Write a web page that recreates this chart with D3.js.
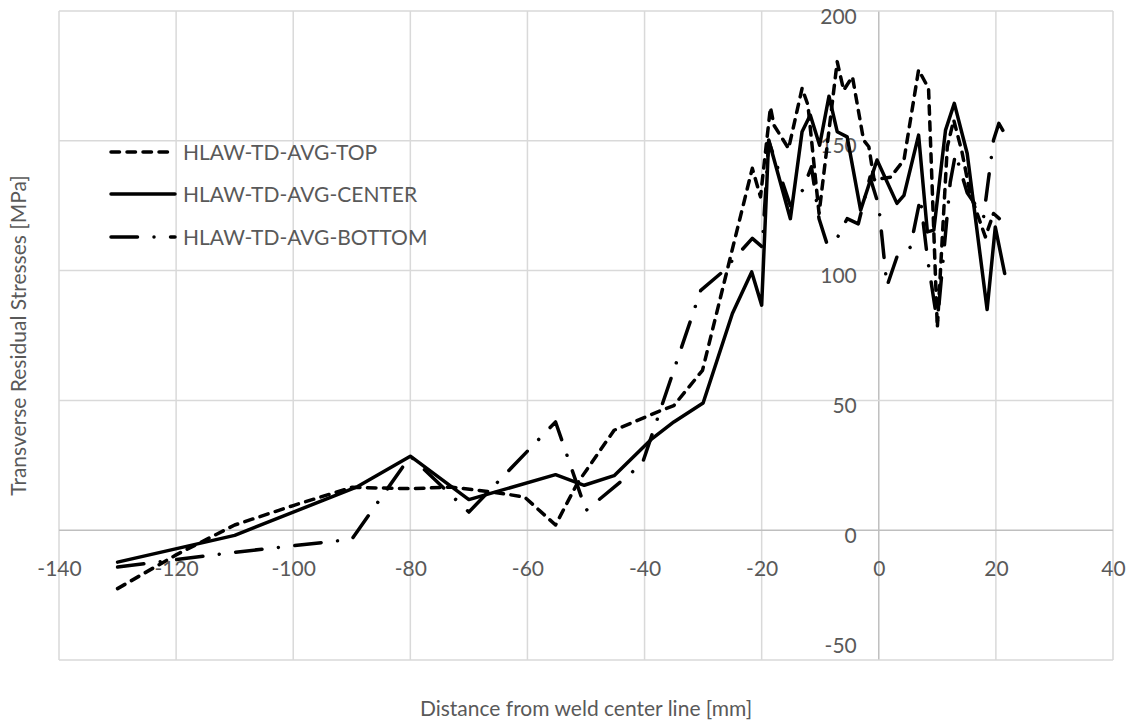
<!DOCTYPE html>
<html>
<head>
<meta charset="utf-8">
<script src="https://cdn.jsdelivr.net/npm/d3@7"></script>
<style>
  html, body { margin: 0; padding: 0; background: #ffffff; }
  svg { display: block; }
  text { font-family: Lato, "Open Sans", sans-serif; fill: #595959; }
</style>
</head>
<body>
<svg id="chart" width="1130" height="722"></svg>
<script>
// Tick values
const xTicks = [-140, -120, -100, -80, -60, -40, -20, 0, 20, 40];
const yTicks = [-50, 0, 50, 100, 150, 200];

// Series names
const seriesNames = ["HLAW-TD-AVG-TOP", "HLAW-TD-AVG-CENTER", "HLAW-TD-AVG-BOTTOM"];

// HLAW-TD-AVG-TOP
const topX = [-130, -120, -110, -100, -90, -80, -73, -66, -60.5, -55.2, -51.5, -45.2, -37.3, -35, -30.1, -21.6, -20.2, -18.5, -17.9, -15.4, -13.1, -12.1, -10.2, -7.1, -6, -4.5, -2.6, -1.7, -0.8, 2, 4.3, 6.8, 8.5, 10, 11.7, 12.8, 14.2, 15.6, 18.2, 19.6, 20.6];
const topY = [-22.5, -9.5, 2, 9.5, 16.5, 16, 16.6, 14.7, 12.8, 2, 18, 38.5, 46, 48, 61.6, 139.4, 128.4, 162.9, 156, 147, 170.2, 163.8, 122, 180.5, 169.5, 174.7, 150.3, 147.7, 135, 136, 142.6, 177.3, 170.2, 78, 147.7, 158, 145.8, 129.7, 113, 122, 120];

// HLAW-TD-AVG-CENTER
const centerX = [-130, -110, -89, -80, -70, -55.2, -50.3, -45.2, -38.7, -35, -30, -25, -21.7, -20, -18.8, -15.1, -13.1, -11.7, -10.1, -8.5, -7.1, -5.4, -3.1, -0.3, 3.1, 4.3, 6.8, 8.3, 9.4, 11.4, 12.9, 15.1, 18.5, 19.9, 21.5];
const centerY = [-12.3, -2, 16.8, 28.5, 11.8, 21.4, 17.3, 21, 35.3, 41.7, 49, 83.5, 99.5, 86.7, 150.3, 120, 153.5, 159.9, 148.3, 167.2, 153.5, 151.5, 123.3, 142.6, 125.9, 129, 152.2, 114.9, 115.6, 154.1, 164.4, 145.1, 85, 116.8, 98.9];

// HLAW-TD-AVG-BOTTOM
const bottomX = [-130, -110, -90, -80, -70, -55.2, -50, -40.4, -30.4, -27, -21.6, -19.9, -18.8, -15.1, -13, -11.5, -10.2, -8.8, -7, -5.4, -3.5, -1.5, 0, 1.4, 3.1, 5.4, 7.1, 8.3, 10, 12.2, 13.1, 15.1, 17.9, 19.6, 20.5, 21.5];
const bottomY = [-14.2, -8.5, -3.5, 28.5, 7, 41.7, 7.6, 25.6, 92.4, 98.9, 112.4, 109.1, 150, 125, 131, 140, 120, 110, 113, 120, 118, 136, 125, 94, 105.3, 109, 128, 105, 80, 134, 145, 130, 120.7, 150.3, 156.7, 152.8];

const svg = d3.select("#chart");
const plot = { left: 59, right: 1113, top: 11, bottom: 660 };

const x = d3.scaleLinear().domain([-140, 40]).range([plot.left, plot.right]);
const y = d3.scaleLinear().domain([-50, 200]).range([plot.bottom, plot.top]);

const gridColor = "#d9d9d9";
const axisColor = "#bfbfbf";
const fmt = d => String(d);

// Gridlines
const grid = svg.append("g");
grid.selectAll("line.gx").data(xTicks).join("line")
  .attr("x1", d => x(d)).attr("x2", d => x(d))
  .attr("y1", plot.top).attr("y2", plot.bottom)
  .attr("stroke", d => d === 0 ? axisColor : gridColor)
  .attr("stroke-width", 1.5);
grid.selectAll("line.gy").data(yTicks).join("line")
  .attr("x1", plot.left).attr("x2", plot.right)
  .attr("y1", d => y(d)).attr("y2", d => y(d))
  .attr("stroke", d => d === 0 ? axisColor : gridColor)
  .attr("stroke-width", 1.5);

// X axis labels, hung below the zero line
const xAxis = svg.append("g")
  .attr("transform", `translate(0,${y(0)})`)
  .call(d3.axisBottom(x).tickValues(xTicks).tickSize(0).tickFormat(fmt));
xAxis.select(".domain").remove();
xAxis.selectAll("text")
  .attr("y", 46).attr("dy", null)
  .style("font-size", "21px").style("fill", "#595959")
  .style("font-family", "Lato, sans-serif");

// Y axis labels, to the left of the zero line
const yAxis = svg.append("g")
  .attr("transform", `translate(${x(0)},0)`)
  .call(d3.axisLeft(y).tickValues(yTicks).tickSize(0).tickFormat(fmt));
yAxis.select(".domain").remove();
yAxis.selectAll("text")
  .attr("x", -22).attr("dy", null)
  .attr("y", d => d === -50 ? -8 : 12)
  .style("font-size", "21px").style("fill", "#595959")
  .style("font-family", "Lato, sans-serif");

// Axis titles
svg.append("text")
  .attr("x", (plot.left + plot.right) / 2).attr("y", 716)
  .attr("text-anchor", "middle").style("font-size", "21px")
  .text("Distance from weld center line [mm]");
svg.append("text")
  .attr("transform", `translate(26,${(plot.top + plot.bottom) / 2}) rotate(-90)`)
  .attr("text-anchor", "middle").style("font-size", "21px")
  .text("Transverse Residual Stresses [MPa]");

// Line styles per series
const styles = [
  { dash: "8.5,7.5" },
  { dash: null },
  { dash: "26.5,16.5,0.01,16.5" }
];

const series = [
  d3.zip(topX, topY),
  d3.zip(centerX, centerY),
  d3.zip(bottomX, bottomY)
];

const line = d3.line().x(d => x(d[0])).y(d => y(d[1]));

svg.append("g").selectAll("path").data(series).join("path")
  .attr("d", line)
  .attr("fill", "none")
  .attr("stroke", "#000")
  .attr("stroke-width", 3.5)
  .attr("stroke-linejoin", "round")
  .attr("stroke-linecap", "round")
  .attr("stroke-dasharray", (d, i) => styles[i].dash);

// Legend
const legendY = [152, 194, 237];
const legendEnd = [170, 175, 175];
const legend = svg.append("g");
seriesNames.forEach((name, i) => {
  legend.append("line")
    .attr("x1", 111).attr("x2", legendEnd[i])
    .attr("y1", legendY[i]).attr("y2", legendY[i])
    .attr("stroke", "#000").attr("stroke-width", 3.5)
    .attr("stroke-linecap", "round")
    .attr("stroke-dasharray", styles[i].dash);
  legend.append("text")
    .attr("x", 183).attr("y", legendY[i] + 7.5)
    .style("font-size", "21px")
    .text(name);
});
</script>
</body>
</html>
